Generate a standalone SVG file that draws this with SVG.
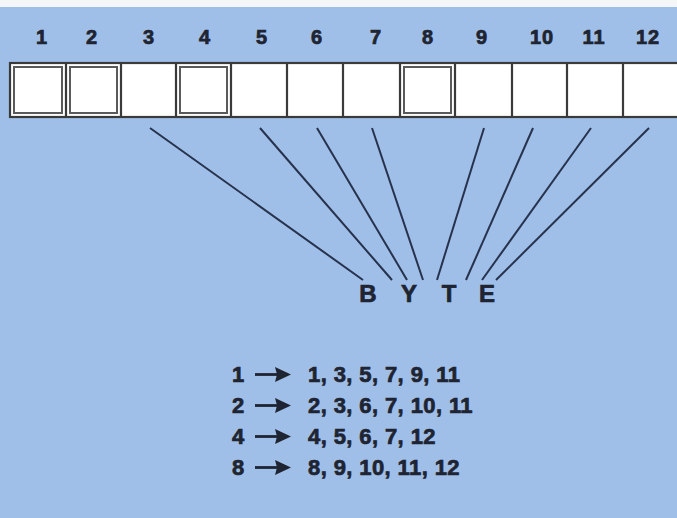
<svg xmlns="http://www.w3.org/2000/svg" width="677" height="518" viewBox="0 0 677 518">
<defs>
<style>
.t{font-family:"Liberation Sans",Arial,sans-serif;font-weight:bold;fill:#1e2431;stroke:#1e2431;stroke-width:0.7}
.num{font-size:20px;text-anchor:middle;letter-spacing:1px}
.byte{font-size:24px;text-anchor:middle}
.tab{font-size:22px;letter-spacing:0.4px}
.cell{fill:#ffffff;stroke:#3a3a3a;stroke-width:2.2}
.inner{fill:none;stroke:#5a5a5a;stroke-width:2}
.ln{stroke:#27324d;stroke-width:2;fill:none}
.shaft{stroke:#1e2431;stroke-width:2.8}
.head{fill:#1e2431}
</style>
<path id="arrow-head" class="head" d="M0,-7.5 L16,0 L0,7.5 L2,0 Z"/>
</defs>
<rect x="0" y="0" width="677" height="518" fill="#9fbfe8"/>
<rect x="0" y="0" width="677" height="7" fill="#f4f6f8"/>

<g id="bits">
<rect class="cell" x="10" y="63" width="669" height="54"/>
<g id="cell-dividers" stroke="#3a3a3a" stroke-width="2.2">
<line x1="66" y1="63" x2="66" y2="117"/>
<line x1="121" y1="63" x2="121" y2="117"/>
<line x1="176" y1="63" x2="176" y2="117"/>
<line x1="231" y1="63" x2="231" y2="117"/>
<line x1="287" y1="63" x2="287" y2="117"/>
<line x1="343" y1="63" x2="343" y2="117"/>
<line x1="400" y1="63" x2="400" y2="117"/>
<line x1="455" y1="63" x2="455" y2="117"/>
<line x1="512" y1="63" x2="512" y2="117"/>
<line x1="567" y1="63" x2="567" y2="117"/>
<line x1="623" y1="63" x2="623" y2="117"/>
</g>
<rect class="inner" x="14" y="67" width="48" height="46"/>
<rect class="inner" x="70" y="67" width="47" height="46"/>
<rect class="inner" x="180" y="67" width="47" height="46"/>
<rect class="inner" x="404" y="67" width="47" height="46"/>
</g>

<g id="labels">
<text class="t num" x="42" y="44">1</text>
<text class="t num" x="92" y="44">2</text>
<text class="t num" x="149" y="44">3</text>
<text class="t num" x="205" y="44">4</text>
<text class="t num" x="262" y="44">5</text>
<text class="t num" x="317" y="44">6</text>
<text class="t num" x="376" y="44">7</text>
<text class="t num" x="428" y="44">8</text>
<text class="t num" x="482" y="44">9</text>
<text class="t num" x="542" y="44">10</text>
<text class="t num" x="594" y="44">11</text>
<text class="t num" x="648" y="44">12</text>
</g>

<g id="connectors" class="ln">
<line x1="150" y1="128" x2="363" y2="280"/>
<line x1="260" y1="128" x2="392" y2="280"/>
<line x1="317" y1="128" x2="407" y2="280"/>
<line x1="372" y1="128" x2="423" y2="280"/>
<line x1="484" y1="128" x2="437" y2="280"/>
<line x1="533" y1="128" x2="466" y2="280"/>
<line x1="591" y1="128" x2="482" y2="280"/>
<line x1="649" y1="128" x2="496" y2="280"/>
</g>

<g id="byte">
<text class="t byte" x="368" y="302">B</text>
<text class="t byte" x="409" y="302">Y</text>
<text class="t byte" x="449" y="302">T</text>
<text class="t byte" x="487" y="302">E</text>
</g>

<g id="table">
<g id="arrows">
<line class="shaft" x1="255" y1="374.5" x2="278" y2="374.5"/>
<use href="#arrow-head" x="275" y="374.5"/>
<line class="shaft" x1="255" y1="405.5" x2="278" y2="405.5"/>
<use href="#arrow-head" x="275" y="405.5"/>
<line class="shaft" x1="255" y1="436.5" x2="278" y2="436.5"/>
<use href="#arrow-head" x="275" y="436.5"/>
<line class="shaft" x1="255" y1="467.5" x2="278" y2="467.5"/>
<use href="#arrow-head" x="275" y="467.5"/>
</g>
<text class="t tab" x="232" y="382">1</text>
<text class="t tab" x="308" y="382">1, 3, 5, 7, 9, 11</text>
<text class="t tab" x="232" y="413">2</text>
<text class="t tab" x="308" y="413">2, 3, 6, 7, 10, 11</text>
<text class="t tab" x="232" y="444">4</text>
<text class="t tab" x="308" y="444">4, 5, 6, 7, 12</text>
<text class="t tab" x="232" y="475">8</text>
<text class="t tab" x="308" y="475">8, 9, 10, 11, 12</text>
</g>
</svg>
